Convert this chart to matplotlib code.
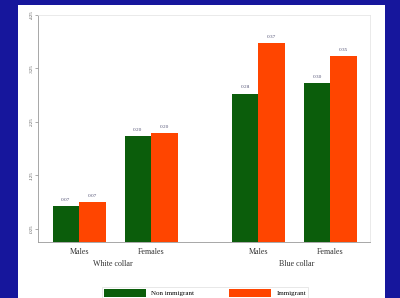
import matplotlib
matplotlib.use("Agg")
import matplotlib.pyplot as plt
from matplotlib.patches import Rectangle, Patch

groups = ["White collar", "Blue collar"]
genders = ["Males", "Females", "Males", "Females"]
non_immigrant = [0.067, 0.198, 0.278, 0.298]
immigrant = [0.074, 0.204, 0.372, 0.348]
series_names = ["Non immigrant", "Immigrant"]
y_ticks = [0.025, 0.125, 0.225, 0.325, 0.425]
y_tick_labels = [".025", ".125", ".225", ".325", ".425"]

GREEN = "#0b5d0b"
ORANGE = "#ff4500"
BLUE = "#16169c"
SERIF = ["Liberation Serif", "DejaVu Serif"]

W, H = 400, 298
fig = plt.figure(figsize=(4, 2.98), dpi=100, facecolor=BLUE)
# white panel
fig.patches.append(Rectangle((18 / W, 0), (385 - 18) / W, (298 - 5) / H,
                             transform=fig.transFigure, facecolor="white",
                             edgecolor="none", zorder=-10))

ax = fig.add_axes([38 / W, 1 - 242 / H, (370 - 38) / W, (242 - 15) / H])
ax.set_zorder(2)
ax.set_facecolor("white")

xpos = [0, 1, 2.49, 3.49]
bw = 0.368
for i, x in enumerate(xpos):
    ax.bar(x - bw / 2, non_immigrant[i], width=bw, color=GREEN, zorder=3)
    ax.bar(x + bw / 2, immigrant[i], width=bw, color=ORANGE, zorder=3)
    ax.text(x - bw / 2, non_immigrant[i] + 0.008, f"{non_immigrant[i]:.2f}",
            ha="center", va="bottom", fontsize=3.8, color="#555577", family=SERIF)
    ax.text(x + bw / 2, immigrant[i] + 0.008, f"{immigrant[i]:.2f}",
            ha="center", va="bottom", fontsize=3.8, color="#555577", family=SERIF)

ax.set_xlim(-0.57, 4.04)
ax.set_ylim(0, 0.42)
ax.set_yticks(y_ticks)
ax.set_yticklabels(y_tick_labels, rotation=90, fontsize=3.5, color="#555555",
                   family=SERIF, va="center")
ax.tick_params(axis="y", length=2, width=0.5, color="#888888", pad=1)
ax.set_xticks(xpos)
ax.set_xticklabels(genders, fontsize=5.8, family=SERIF, color="#333333")
ax.tick_params(axis="x", length=0, pad=4)

for s in ["left", "bottom"]:
    ax.spines[s].set_color("#999999")
    ax.spines[s].set_linewidth(0.6)
for s in ["top", "right"]:
    ax.spines[s].set_color("#e6e6e6")
    ax.spines[s].set_linewidth(0.6)

# group labels
fig.text(113 / W, 1 - 264 / H, groups[0], ha="center", va="center",
         fontsize=5.8, family=SERIF, color="#333333")
fig.text(297 / W, 1 - 264 / H, groups[1], ha="center", va="center",
         fontsize=5.8, family=SERIF, color="#333333")

handles = [Patch(facecolor=GREEN), Patch(facecolor=ORANGE)]
leg = fig.legend(handles, series_names, loc="center", ncol=2,
                 bbox_to_anchor=(205 / W, 1 - 293 / H), frameon=True,
                 fancybox=False, edgecolor="#dddddd",
                 prop={"family": SERIF, "size": 5}, handlelength=6,
                 handleheight=1.4, columnspacing=5, borderpad=0.3,
                 handletextpad=0.8)
leg.get_frame().set_linewidth(0.6)

fig.savefig("out.png", dpi=100, facecolor=BLUE)
